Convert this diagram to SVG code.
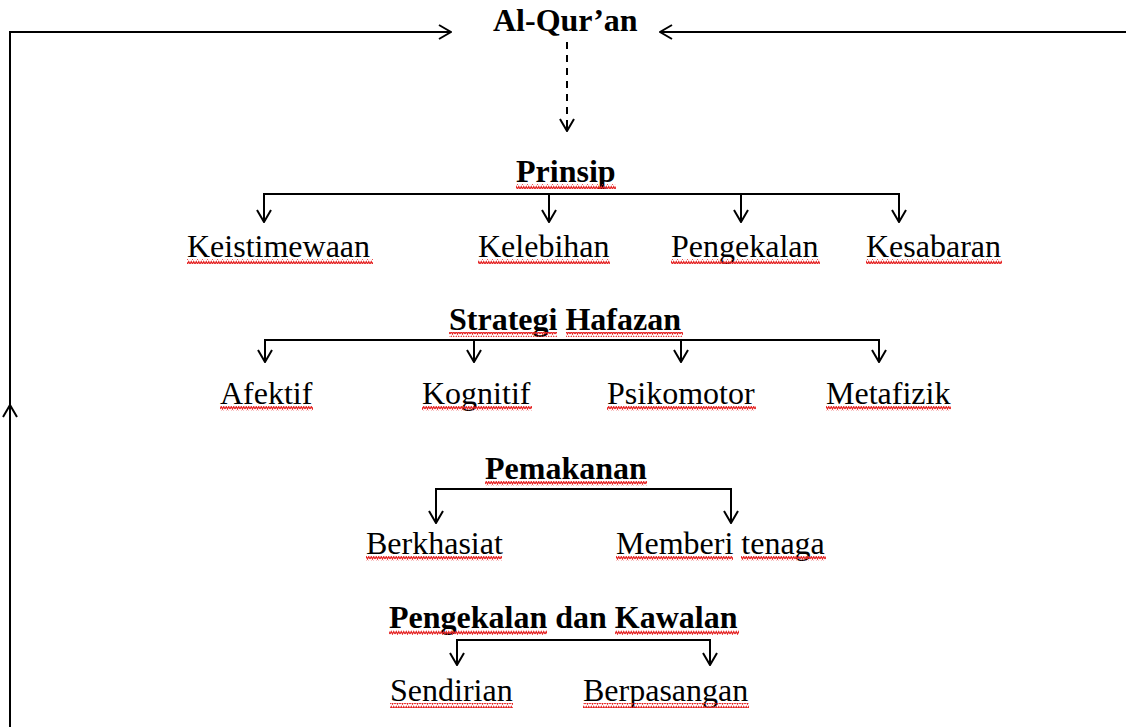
<svg xmlns="http://www.w3.org/2000/svg" width="1126" height="727" viewBox="0 0 1126 727">
<style>
text{font-family:"Liberation Serif","Times New Roman",serif;font-size:32px;fill:#000}
.b{font-weight:bold}
.ln{stroke:#000;stroke-width:2;fill:none}
.ar{marker-end:url(#chev)}
.dash{stroke-dasharray:7,6}
.sq{fill:url(#wave)}
</style>
<defs>
<marker id="chev" viewBox="0 0 14 16" refX="13" refY="8" markerWidth="14" markerHeight="16" markerUnits="userSpaceOnUse" orient="auto">
<path d="M1,1 L13,8 L1,15" fill="none" stroke="#000" stroke-width="2"/>
</marker>
<pattern id="wave" width="5" height="5" patternUnits="userSpaceOnUse">
<path d="M0,4 L1.25,1.5 L2.5,4 L3.75,1.5 L5,4" fill="none" stroke="#e52222" stroke-width="1.2"/>
</pattern>
</defs>
<rect width="1126" height="727" fill="#fff"/>
<g id="connectors">
<path class="ln ar" d="M10,727 L10,405"/>
<path class="ln" d="M10,410 L10,32 L451,32"/>
<path class="ln ar" d="M10,32 L451,32"/>
<path class="ln ar" d="M1126,32 L660,32"/>
<path class="ln dash" d="M567,42 L567,122"/>
<path class="ln ar" d="M567,122 L567,131"/>
<path class="ln" d="M264,222 L264,194 L899,194 L899,222"/>
<path class="ln ar" d="M264,200 L264,222"/>
<path class="ln ar" d="M549,194 L549,222"/>
<path class="ln ar" d="M741,194 L741,222"/>
<path class="ln ar" d="M899,200 L899,222"/>
<path class="ln" d="M265,362 L265,340 L879,340 L879,362"/>
<path class="ln ar" d="M265,345 L265,362"/>
<path class="ln ar" d="M474,340 L474,362"/>
<path class="ln ar" d="M681,340 L681,362"/>
<path class="ln ar" d="M879,345 L879,362"/>
<path class="ln" d="M436,523 L436,489 L731,489 L731,523"/>
<path class="ln ar" d="M436,500 L436,523"/>
<path class="ln ar" d="M731,500 L731,523"/>
<path class="ln" d="M457,665 L457,640 L710,640 L710,665"/>
<path class="ln ar" d="M457,648 L457,665"/>
<path class="ln ar" d="M710,648 L710,665"/>
</g>
<g id="alquran"><text class="b" x="493" y="31">Al-Qur’an</text></g>
<g id="prinsip"><text class="b" x="516" y="182">Prinsip</text><rect class="sq" x="516" y="184" width="100" height="5"/></g>
<g id="keistimewaan"><text x="187" y="257">Keistimewaan</text><rect class="sq" x="187" y="259" width="186" height="5"/></g>
<g id="kelebihan"><text x="478" y="257">Kelebihan</text><rect class="sq" x="478" y="259" width="132" height="5"/></g>
<g id="pengekalan"><text x="671" y="257">Pengekalan</text><rect class="sq" x="671" y="259" width="149" height="5"/></g>
<g id="kesabaran"><text x="866" y="257">Kesabaran</text><rect class="sq" x="866" y="259" width="136" height="5"/></g>
<g id="strategi"><text class="b" x="449" y="330">Strategi Hafazan</text><rect class="sq" x="449" y="332" width="108" height="5"/><rect class="sq" x="566" y="332" width="117" height="5"/></g>
<g id="afektif"><text x="220" y="404">Afektif</text><rect class="sq" x="220" y="406" width="93" height="5"/></g>
<g id="kognitif"><text x="422" y="404">Kognitif</text><rect class="sq" x="422" y="406" width="110" height="5"/></g>
<g id="psikomotor"><text x="607" y="404">Psikomotor</text><rect class="sq" x="607" y="406" width="149" height="5"/></g>
<g id="metafizik"><text x="826" y="404">Metafizik</text><rect class="sq" x="826" y="406" width="125" height="5"/></g>
<g id="pemakanan"><text class="b" x="485" y="479">Pemakanan</text><rect class="sq" x="485" y="481" width="162" height="5"/></g>
<g id="berkhasiat"><text x="366" y="554">Berkhasiat</text><rect class="sq" x="366" y="556" width="136" height="5"/></g>
<g id="memberi"><text x="616" y="554">Memberi tenaga</text><rect class="sq" x="616" y="556" width="117" height="5"/><rect class="sq" x="741" y="556" width="85" height="5"/></g>
<g id="pengekalan-kawalan"><text class="b" x="389" y="628">Pengekalan dan Kawalan</text><rect class="sq" x="389" y="630" width="158" height="5"/><rect class="sq" x="615" y="630" width="124" height="5"/></g>
<g id="sendirian"><text x="390" y="701">Sendirian</text><rect class="sq" x="390" y="703" width="123" height="5"/></g>
<g id="berpasangan"><text x="583" y="701">Berpasangan</text><rect class="sq" x="583" y="703" width="166" height="5"/></g>
</svg>
